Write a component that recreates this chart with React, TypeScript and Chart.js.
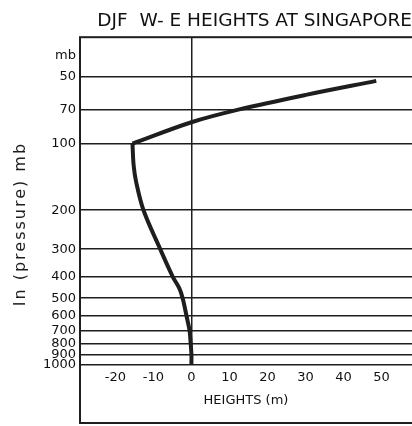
import React, { useEffect, useRef } from "react";
import { Chart, registerables } from "chart.js";

Chart.register(...registerables);

const titleText = "DJF  W- E HEIGHTS AT SINGAPORE";
const xAxisTitle = "HEIGHTS (m)";
const yAxisTitle = "In (pressure) mb";

// pressure levels (mb) and W-E height values (m) of the curve
const pressures = [52, 60, 70, 80, 100, 125, 150, 200, 300, 400, 450, 500, 600, 700, 800, 900, 1000];
const heights = [48.6, 30.4, 12.6, 0, -15.5, -15.2, -14.5, -12.6, -8.2, -4.9, -3.2, -2.3, -1.3, -0.5, -0.2, 0, 0];
const cornerIndex = 4; // the sharp bend at 100 mb

const yTickValues = [40, 50, 70, 100, 200, 300, 400, 500, 600, 700, 800, 900, 1000];
const yUnitTick = 40; // position of the "mb" unit label
const xTickValues = [-20, -10, 0, 10, 20, 30, 40, 50];

const INK = "#1e1e1e";
const FONT = "'DejaVu Sans', sans-serif";

const framePlugin = {
  id: "frame",
  beforeDraw(chart: any) {
    const { ctx } = chart;
    ctx.save();
    ctx.fillStyle = "#ffffff";
    ctx.fillRect(0, 0, chart.width, chart.height);
    ctx.restore();
  },
  afterDraw(chart: any) {
    const { ctx, chartArea } = chart;
    const xs = chart.scales.x;
    ctx.save();
    ctx.strokeStyle = INK;
    ctx.lineWidth = 2;
    ctx.strokeRect(chartArea.left, chartArea.top, chart.width + 10 - chartArea.left, xs.bottom - chartArea.top);
    // rotated y-axis title, centred on the frame
    const cy = (chartArea.top + xs.bottom) / 2 - 6;
    ctx.translate(21, cy);
    ctx.rotate(-Math.PI / 2);
    ctx.fillStyle = INK;
    ctx.font = `16px ${FONT}`;
    (ctx as any).letterSpacing = "2px";
    ctx.textAlign = "center";
    ctx.textBaseline = "middle";
    ctx.fillText(yAxisTitle, 0, 0);
    ctx.restore();
  },
};

export default function App() {
  const ref = useRef<HTMLCanvasElement | null>(null);

  useEffect(() => {
    if (!ref.current) return;
    const data = pressures.map((p, i) => ({ x: heights[i], y: p }));
    const lineStyle = {
      showLine: true,
      borderColor: INK,
      borderWidth: 4,
      pointRadius: 0,
      tension: 0.35,
      borderCapStyle: "butt",
      borderJoinStyle: "round",
    };
    const chart = new Chart(ref.current, {
      type: "scatter",
      data: {
        datasets: [
          { ...lineStyle, data: data.slice(0, cornerIndex + 1) } as any,
          { ...lineStyle, data: data.slice(cornerIndex) } as any,
        ],
      },
      plugins: [framePlugin],
      options: {
        responsive: false,
        animation: false,
        layout: { padding: { left: 8, right: 0, top: 0, bottom: 3 } },
        plugins: {
          legend: { display: false },
          tooltip: { enabled: false },
          title: {
            display: true,
            text: titleText,
            fullSize: false,
            align: "end",
            color: "#111",
            font: { family: FONT, size: 18.5, weight: "normal" },
            padding: { top: 10, bottom: 5 },
          },
        },
        scales: {
          x: {
            type: "linear",
            min: -29.3,
            max: 58,
            afterBuildTicks: (scale: any) => {
              scale.ticks = xTickValues.map((v) => ({ value: v }));
            },
            grid: {
              drawTicks: false,
              tickLength: 0,
              lineWidth: 1.5,
              color: (c: any) => (c.tick && c.tick.value === 0 ? INK : "rgba(0,0,0,0)"),
            },
            border: { display: false },
            ticks: {
              autoSkip: false,
              maxRotation: 0,
              padding: 5,
              color: "#111",
              font: { family: FONT, size: 13 },
            },
            title: {
              display: true,
              text: xAxisTitle,
              color: "#111",
              font: { family: FONT, size: 13 },
              padding: { top: 2, bottom: 15 },
            },
          },
          y: {
            type: "logarithmic",
            reverse: true,
            min: 33,
            max: 1000,
            afterBuildTicks: (scale: any) => {
              scale.ticks = yTickValues.map((v) => ({ value: v }));
            },
            afterFit: (scale: any) => {
              scale.width = 72;
            },
            grid: {
              drawTicks: false,
              tickLength: 0,
              lineWidth: 1.5,
              color: (c: any) => (c.tick && c.tick.value === yUnitTick ? "rgba(0,0,0,0)" : INK),
            },
            border: { display: false },
            ticks: {
              autoSkip: false,
              padding: 4,
              color: "#111",
              font: { family: FONT, size: 13 },
              callback: (v: any) => (v === yUnitTick ? "mb" : String(v)),
            },
          },
        },
      } as any,
    });
    return () => chart.destroy();
  }, []);

  return (
    <div style={{ position: "fixed", left: 0, top: 0, width: 412, height: 426 }}>
      <canvas ref={ref} width={412} height={426} />
    </div>
  );
}
